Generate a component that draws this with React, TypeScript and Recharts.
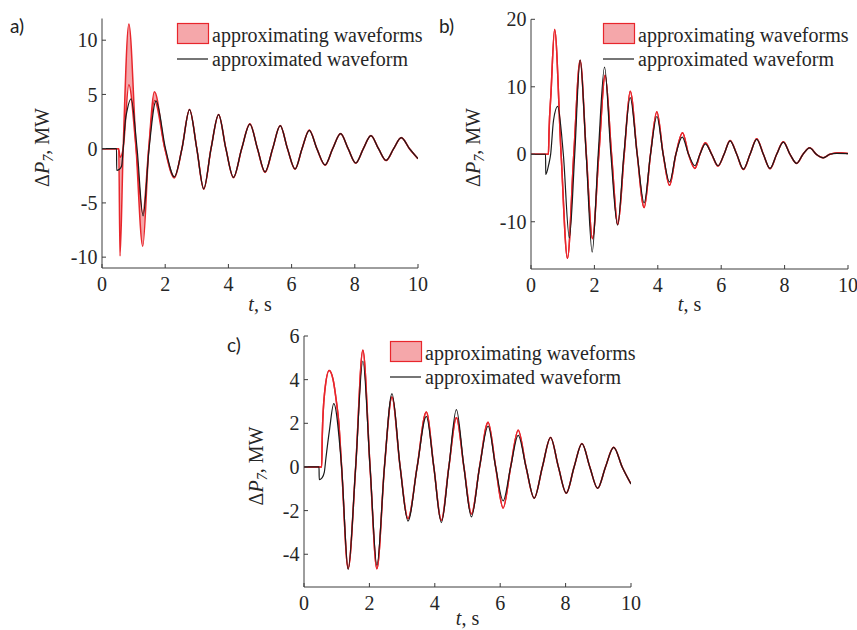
import React from 'react';
import { ComposedChart, Area, Line, XAxis, YAxis, Legend } from 'recharts';

const SERIF = '"Liberation Serif", "Times New Roman", serif';
const RED = '#e8262c';
const PINK = '#f5a7aa';
const BLACK = '#1a1a1a';
const AXIS = '#3c3c3c';
const TXT = '#262626';

// ---------- categories / ticks ----------
const xTicks = [0, 2, 4, 6, 8, 10];
const yTicksA = [-10, -5, 0, 5, 10];
const yTicksB = [-10, 0, 10, 20];
const yTicksC = [-4, -2, 0, 2, 4, 6];

// ---------- panel a ----------
const tA = [0, 0.46, 0.465, 0.55, 0.62, 0.67, 0.74, 0.8, 0.92, 1.11, 1.3, 1.49, 1.71, 2.01, 2.29, 2.53, 2.77, 3.0, 3.22, 3.45, 3.69, 3.92, 4.16, 4.42, 4.68, 4.92, 5.16, 5.4, 5.64, 5.87, 6.11, 6.33, 6.56, 6.8, 7.06, 7.3, 7.55, 7.79, 8.03, 8.27, 8.51, 8.75, 8.99, 9.23, 9.47, 9.73, 10];
const blackA = [0, 0, -2.0, -1.9, -1.6, 0, 2.6, 3.6, 4.6, 0, -6.2, 0, 4.4, 0, -2.6, 0, 3.6, 0, -3.7, 0, 3.13, 0, -2.64, 0, 2.27, 0, -2.15, 0, 2.12, 0, -1.87, 0, 1.69, 0, -1.5, 0, 1.38, 0, -1.32, 0, 1.2, 0, -1.08, 0, 1.01, 0, -0.92];
const tRedA = [0, 0.53, 0.57, 0.67, 0.85, 1.08, 1.29, 1.48, 1.66, 1.99, 2.29, 2.53, 2.77, 3.0, 3.22, 3.45, 3.69, 3.92, 4.16, 4.42, 4.68, 4.92, 5.16, 5.4, 5.64, 5.87, 6.11, 6.33, 6.56, 6.8, 7.06, 7.3, 7.55, 7.79, 8.03, 8.27, 8.51, 8.75, 8.99, 9.23, 9.47, 9.73, 10];
const redOuterA = [0, 0, -9.9, 0, 11.5, 0, -9.0, 0, 5.25, 0, -2.7, 0, 3.62, 0, -3.75, 0, 3.16, 0, -2.68, 0, 2.3, 0, -2.2, 0, 2.14, 0, -1.9, 0, 1.72, 0, -1.52, 0, 1.4, 0, -1.34, 0, 1.22, 0, -1.1, 0, 1.03, 0, -0.93];
const redInnerA = [0, 0, -0.8, 0, 5.9, 0, -6.0, 0, 4.45, 0, -2.6, 0, 3.6, 0, -3.7, 0, 3.13, 0, -2.64, 0, 2.27, 0, -2.15, 0, 2.12, 0, -1.87, 0, 1.69, 0, -1.5, 0, 1.38, 0, -1.32, 0, 1.2, 0, -1.08, 0, 1.01, 0, -0.92];

// ---------- panel b ----------
const tB = [0, 0.46, 0.465, 0.56, 0.62, 0.71, 0.84, 1.02, 1.21, 1.38, 1.55, 1.74, 1.93, 2.12, 2.32, 2.52, 2.73, 2.93, 3.13, 3.35, 3.57, 3.77, 3.97, 4.17, 4.37, 4.57, 4.77, 4.97, 5.17, 5.33, 5.5, 5.7, 5.9, 6.09, 6.28, 6.49, 6.7, 6.91, 7.12, 7.33, 7.54, 7.75, 7.96, 8.17, 8.38, 8.58, 8.79, 9.0, 9.22, 9.43, 9.64, 10];
const blackB = [0, 0, -3.0, -1.5, 0, 5.0, 7.1, 0, -12.4, 0, 14.0, 0, -14.5, 0, 12.9, 0, -10.5, 0, 8.4, 0, -7.2, 0, 5.6, 0, -4.1, 0, 2.55, 0, -1.7, 0, 1.55, 0, -1.7, 0, 2.0, 0, -2.2, 0, 2.2, 0, -2.1, 0, 1.8, 0, -1.35, 0, 0.95, 0, -0.52, 0, 0.12, 0.1];
const tRedB = [0, 0.55, 0.57, 0.63, 0.745, 0.95, 1.15, 1.35, 1.55, 1.745, 1.94, 2.14, 2.34, 2.54, 2.74, 2.94, 3.13, 3.35, 3.57, 3.77, 3.97, 4.17, 4.37, 4.57, 4.78, 4.97, 5.17, 5.33, 5.5, 5.7, 5.9, 6.09, 6.28, 6.49, 6.7, 6.91, 7.12, 7.33, 7.54, 7.75, 7.96, 8.17, 8.38, 8.58, 8.79, 9.0, 9.22, 9.43, 9.7, 10];
const redB = [0, 0, 3.5, 9, 18.5, 0, -15.4, 0, 13.9, 0, -12.5, 0, 11.7, 0, -10.4, 0, 9.35, 0, -7.9, 0, 6.3, 0, -4.6, 0, 3.2, 0, -2.1, 0, 1.7, 0, -1.75, 0, 2.05, 0, -2.25, 0, 2.3, 0, -2.15, 0, 1.85, 0, -1.35, 0, 0.95, 0, -0.5, 0, 0.22, 0.1];

// ---------- panel c ----------
const tC = [0, 0.46, 0.465, 0.55, 0.62, 0.67, 0.78, 0.91, 1.15, 1.35, 1.58, 1.8, 2.02, 2.23, 2.46, 2.69, 2.94, 3.18, 3.46, 3.74, 3.97, 4.2, 4.43, 4.66, 4.89, 5.12, 5.37, 5.63, 5.86, 6.09, 6.32, 6.55, 6.79, 7.04, 7.29, 7.54, 7.78, 8.02, 8.26, 8.5, 8.74, 8.98, 9.22, 9.47, 9.73, 10];
const blackC = [0, 0, -0.58, -0.5, -0.25, 0.4, 1.7, 2.9, 0, -4.7, 0, 4.85, 0, -4.5, 0, 3.36, 0, -2.48, 0, 2.32, 0, -2.55, 0, 2.63, 0, -2.29, 0, 1.87, 0, -1.55, 0, 1.45, 0, -1.43, 0, 1.35, 0, -1.2, 0, 1.07, 0, -0.98, 0, 0.9, 0, -0.78];
const tRedC = [0, 0.54, 0.56, 0.63, 0.77, 0.89, 0.99, 1.06, 1.15, 1.35, 1.58, 1.8, 2.02, 2.23, 2.46, 2.69, 2.94, 3.18, 3.46, 3.74, 3.97, 4.2, 4.43, 4.66, 4.89, 5.12, 5.37, 5.63, 5.86, 6.09, 6.32, 6.55, 6.79, 7.04, 7.29, 7.54, 7.78, 8.02, 8.26, 8.5, 8.74, 8.98, 9.22, 9.47, 9.73, 10];
const redC = [0, 0, 1.5, 3.4, 4.42, 4.0, 3.0, 2.1, 0, -4.65, 0, 5.35, 0, -4.66, 0, 3.2, 0, -2.37, 0, 2.52, 0, -2.45, 0, 2.26, 0, -2.15, 0, 2.05, 0, -1.88, 0, 1.68, 0, -1.43, 0, 1.35, 0, -1.2, 0, 1.07, 0, -0.98, 0, 0.9, 0, -0.78];

const lineRows = (t: number[], v: number[]) => t.map((x, i) => ({ t: x, v: v[i] }));
const bandRows = (t: number[], a: number[], b: number[]) => t.map((x, i) => ({ t: x, range: [a[i], b[i]] }));

const LegendBox = () => (
  <svg width={262} height={50} style={{ display: 'block', overflow: 'visible', fontFamily: SERIF }}>
    <rect x={0.5} y={0.5} width={31} height={20} fill={PINK} stroke={RED} strokeWidth={1.2} />
    <text x={35} y={19} fontFamily={SERIF} fontSize={20} fill={TXT}>approximating waveforms</text>
    <line x1={0} x2={31} y1={36} y2={36} stroke={BLACK} strokeWidth={1.2} />
    <text x={35} y={42.7} fontFamily={SERIF} fontSize={20} fill={TXT}>approximated waveform</text>
  </svg>
);

type PanelProps = {
  left: number; top: number; width: number; height: number;
  mt: number; mr: number; yw: number; xh: number;
  yDomain: [number, number]; yTicks: number[];
  black: { t: number; v: number }[];
  band: { t: number; range: number[] }[];
  legendX: number; legendY: number;
  yLabX: number; yLabY: number;
  xLabX: number; xLabY: number;
};

const tickStyle = { fontFamily: SERIF, fontSize: 20, fill: TXT, style: { fontFamily: SERIF } };

const Panel = (p: PanelProps) => {
  const yLabel = () => (
    <text
      x={p.yLabX}
      y={p.yLabY}
      transform={`rotate(-90 ${p.yLabX} ${p.yLabY})`}
      textAnchor="middle"
      fontFamily={SERIF}
      fontSize={20}
      fill={TXT}
    >
      <tspan>Δ</tspan>
      <tspan fontStyle="italic">P</tspan>
      <tspan fontStyle="italic" fontSize={14} dy={4}>7</tspan>
      <tspan dy={-4}>, MW</tspan>
    </text>
  );
  const xLabel = () => (
    <text x={p.xLabX} y={p.xLabY} textAnchor="middle" fontFamily={SERIF} fontSize={20} fill={TXT}>
      <tspan fontStyle="italic">t</tspan>
      <tspan>, s</tspan>
    </text>
  );
  return (
    <div style={{ position: 'absolute', left: p.left, top: p.top, fontFamily: SERIF }}>
      <ComposedChart
        width={p.width}
        height={p.height}
        margin={{ top: p.mt, right: p.mr, bottom: 0, left: 0 }}
        style={{ fontFamily: SERIF }}
      >
        <XAxis
          type="number"
          dataKey="t"
          domain={[0, 10]}
          ticks={xTicks}
          interval={0}
          height={p.xh}
          tickSize={-4}
          tickMargin={12.4}
          axisLine={{ stroke: AXIS, strokeWidth: 1 }}
          tickLine={{ stroke: AXIS }}
          tick={tickStyle}
          allowDataOverflow
          label={xLabel}
        />
        <YAxis
          type="number"
          domain={p.yDomain}
          ticks={p.yTicks}
          interval={0}
          width={p.yw}
          tickSize={-4}
          tickMargin={8.5}
          axisLine={{ stroke: AXIS, strokeWidth: 1 }}
          tickLine={{ stroke: AXIS }}
          tick={tickStyle}
          allowDataOverflow
          label={yLabel}
        />
        <Area
          data={p.band}
          dataKey="range"
          type="monotone"
          stroke={RED}
          strokeWidth={1.5}
          fill={PINK}
          fillOpacity={1}
          dot={false}
          activeDot={false}
          isAnimationActive={false}
        />
        <Line
          data={p.black}
          dataKey="v"
          type="monotone"
          stroke={BLACK}
          strokeWidth={1.2}
          dot={false}
          activeDot={false}
          isAnimationActive={false}
        />
        <Legend
          layout="vertical"
          verticalAlign="middle"
          align="center"
          content={() => <LegendBox />}
          wrapperStyle={{ position: 'absolute', left: p.legendX, top: p.legendY, width: 262, height: 50 }}
        />
      </ComposedChart>
    </div>
  );
};

const panelLabel: React.CSSProperties = {
  position: 'absolute',
  fontFamily: 'Lato, "Liberation Sans", sans-serif',
  fontSize: 19,
  lineHeight: '20px',
  color: '#222',
};

export default function App() {
  return (
    <div style={{ position: 'absolute', left: 0, top: 0, width: 857, height: 630, background: '#fff', overflow: 'hidden', fontFamily: SERIF }}>
      <Panel
        left={0} top={8} width={438} height={310} mt={10.5} mr={20} yw={102} xh={50}
        yDomain={[-11, 12]} yTicks={yTicksA}
        black={lineRows(tA, blackA)}
        band={bandRows(tRedA, redOuterA, redInnerA)}
        legendX={177} legendY={15}
        yLabX={49} yLabY={139.5}
        xLabX={260} xLabY={302.5}
      />
      <Panel
        left={430} top={8} width={427} height={311} mt={11.3} mr={9} yw={101} xh={50}
        yDomain={[-17, 20]} yTicks={yTicksB}
        black={lineRows(tB, blackB)}
        band={bandRows(tRedB, redB, redB)}
        legendX={173.3} legendY={15.3}
        yLabX={49.5} yLabY={139.5}
        xLabX={259.5} xLabY={302.5}
      />
      <Panel
        left={200} top={320} width={451} height={310} mt={16} mr={20} yw={104} xh={43}
        yDomain={[-5.5, 6]} yTicks={yTicksC}
        black={lineRows(tC, blackC)}
        band={bandRows(tRedC, redC, redC)}
        legendX={190} legendY={20.7}
        yLabX={62.5} yLabY={146}
        xLabX={267.5} xLabY={305}
      />
      <div style={{ ...panelLabel, left: 10, top: 16 }}>a)</div>
      <div style={{ ...panelLabel, left: 439, top: 16 }}>b)</div>
      <div style={{ ...panelLabel, left: 227, top: 335 }}>c)</div>
    </div>
  );
}
